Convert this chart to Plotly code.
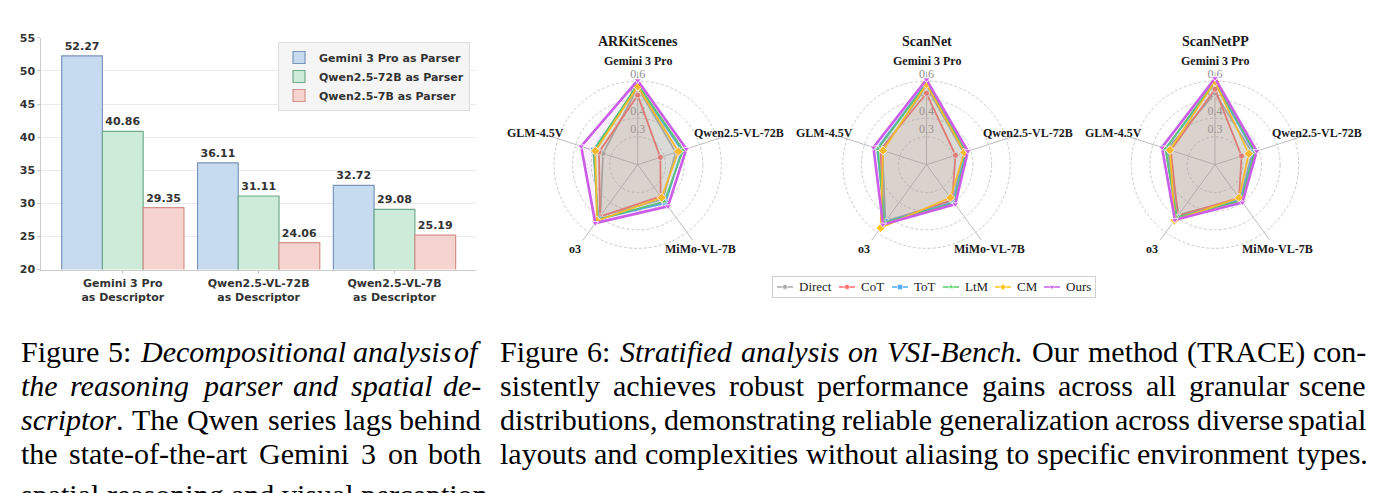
import math
import plotly.graph_objects as go

W, H = 1391, 493

# ---------------- Figure 5 data (grouped bars) ----------------
descriptor_labels = ["Gemini 3 Pro<br>as Descriptor", "Qwen2.5-VL-72B<br>as Descriptor", "Qwen2.5-VL-7B<br>as Descriptor"]
parser_labels = ["Gemini 3 Pro as Parser", "Qwen2.5-72B as Parser", "Qwen2.5-7B as Parser"]
gemini3pro_parser = [52.27, 36.11, 32.72]
qwen72b_parser = [40.86, 31.11, 29.08]
qwen7b_parser = [29.35, 24.06, 25.19]
bar_ytick_vals = [20, 25, 30, 35, 40, 45, 50, 55]

# ---------------- Figure 6 data (radar charts) ----------------
radar_axes = ["Gemini 3 Pro", "Qwen2.5-VL-72B", "MiMo-VL-7B", "o3", "GLM-4.5V"]
method_names = ["Direct", "CoT", "ToT", "LtM", "CM", "Ours"]
scene_names = ["ARKitScenes", "ScanNet", "ScanNetPP"]

arkit_direct = [0.565, 0.365, 0.380, 0.492, 0.346]
arkit_cot    = [0.524, 0.278, 0.360, 0.495, 0.369]
arkit_tot    = [0.575, 0.400, 0.404, 0.511, 0.400]
arkit_ltm    = [0.582, 0.407, 0.395, 0.515, 0.399]
arkit_cm     = [0.571, 0.380, 0.369, 0.523, 0.390]
arkit_ours   = [0.603, 0.425, 0.427, 0.538, 0.470]

scannet_direct = [0.570, 0.360, 0.390, 0.525, 0.400]
scannet_cot    = [0.534, 0.314, 0.385, 0.540, 0.410]
scannet_tot    = [0.590, 0.370, 0.400, 0.528, 0.430]
scannet_ltm    = [0.587, 0.375, 0.405, 0.535, 0.425]
scannet_cm     = [0.583, 0.364, 0.369, 0.570, 0.396]
scannet_ours   = [0.608, 0.384, 0.413, 0.548, 0.450]

scannetpp_direct = [0.535, 0.360, 0.380, 0.482, 0.420]
scannetpp_cot    = [0.556, 0.300, 0.370, 0.490, 0.400]
scannetpp_tot    = [0.590, 0.370, 0.385, 0.500, 0.430]
scannetpp_ltm    = [0.600, 0.375, 0.390, 0.500, 0.430]
scannetpp_cm     = [0.597, 0.341, 0.370, 0.520, 0.405]
scannetpp_ours   = [0.615, 0.386, 0.401, 0.517, 0.450]

radial_tick_vals = [0.3, 0.4, 0.5, 0.6]
radial_tick_text = ["0.3", "0.4", "0.5", "0.6"]

# ---------------- Captions ----------------
left_caption = [
    [("Figure 5: ", 0), ("Decompositional analysis of", 1)],
    [("the reasoning parser and spatial de-", 1)],
    [("scriptor", 1), (". The Qwen series lags behind", 0)],
    [("the state-of-the-art Gemini 3 on both", 0)],
    [("spatial reasoning and visual perception", 0)],
]
right_caption = [
    [("Figure 6: ", 0), ("Stratified analysis on VSI-Bench.", 1), (" Our method (TRACE) con-", 0)],
    [("sistently achieves robust performance gains across all granular scene", 0)],
    [("distributions, demonstrating reliable generalization across diverse spatial", 0)],
    [("layouts and complexities without aliasing to specific environment types.", 0)],
]
left_justify = [1, 1, 1, 1, 0]
right_justify = [1, 1, 1, 0]

# ---------------- styles ----------------
BAR_FONT = "DejaVu Sans"
SERIF = '"Liberation Serif", "Times New Roman", Times, serif'
TXT = "#333333"
bar_fills = ["#c6dbf0", "#cdebd9", "#f6d3cf"]
bar_edges = ["#7b95bb", "#6fab8a", "#d5918b"]
m_colors = ["#aaaaaa", "#ff6b6b", "#4dabf7", "#51cf66", "#fcc419", "#cc5de8"]
m_symbols = ["circle", "circle", "square", "triangle-up", "diamond", "triangle-down"]
m_widths = [1.8, 1.8, 1.8, 1.8, 1.8, 2.6]


def rgba(hexc, a):
    h = hexc.lstrip("#")
    return "rgba(%d,%d,%d,%.3f)" % (int(h[0:2], 16), int(h[2:4], 16), int(h[4:6], 16), a)


def px(x):
    return x / W


def py(y):
    return 1 - y / H


fig = go.Figure()

# ---------- bars ----------
for name, vals, fc, ec in zip(parser_labels, [gemini3pro_parser, qwen72b_parser, qwen7b_parser], bar_fills, bar_edges):
    fig.add_trace(go.Bar(
        x=descriptor_labels, y=vals, name=name,
        marker=dict(color=fc, line=dict(color=ec, width=1.2)),
        texttemplate="%{y:.2f}", textposition="outside", cliponaxis=False,
        constraintext="none",
        textfont=dict(family=BAR_FONT, size=11, color=TXT, weight="bold"),
        xaxis="x", yaxis="y", legend="legend", hoverinfo="skip",
    ))

# ---------- radars ----------
scene_data = [
    [arkit_direct, arkit_cot, arkit_tot, arkit_ltm, arkit_cm, arkit_ours],
    [scannet_direct, scannet_cot, scannet_tot, scannet_ltm, scannet_cm, scannet_ours],
    [scannetpp_direct, scannetpp_cot, scannetpp_tot, scannetpp_ltm, scannetpp_cm, scannetpp_ours],
]
centers_x = [637.7, 926.5, 1215.0]
CY = 163.0
R = 95.5
R_MIN, R_MAX = 0.15, 0.65
LABEL_R = 0.71

annotations = []
polar_layouts = {}
for i, (scene, series) in enumerate(zip(scene_names, scene_data)):
    sp = "polar" if i == 0 else "polar%d" % (i + 1)
    # radial tick labels (drawn first => under data)
    fig.add_trace(go.Scatterpolar(
        r=[v + 0.035 for v in radial_tick_vals], theta=[radar_axes[0]] * len(radial_tick_vals),
        mode="text", text=radial_tick_text,
        textfont=dict(family=SERIF, size=12, color="#8f8f8f"),
        cliponaxis=False, showlegend=False, hoverinfo="skip", subplot=sp))
    for j, vals in enumerate(series):
        fig.add_trace(go.Scatterpolar(
            r=vals + [vals[0]], theta=radar_axes + [radar_axes[0]],
            mode="lines+markers", name=method_names[j],
            line=dict(color=m_colors[j], width=m_widths[j]),
            marker=dict(symbol=m_symbols[j], size=6 if j != 4 else 7, color=m_colors[j],
                        line=dict(color="white", width=0.8)),
            fill="toself", fillcolor=rgba(m_colors[j], 0.09),
            showlegend=False, hoverinfo="skip", subplot=sp))
    cx = centers_x[i]
    polar_layouts[sp] = dict(
        domain=dict(x=[px(cx - R), px(cx + R)], y=[py(CY + R), py(CY - R)]),
        bgcolor="rgba(0,0,0,0)",
        radialaxis=dict(range=[R_MIN, R_MAX], tickvals=radial_tick_vals, showticklabels=False,
                        ticks="", showline=False, gridcolor="#cccccc", griddash="3px,2px",
                        gridwidth=0.8, layer="below traces", angle=90),
        angularaxis=dict(direction="clockwise", rotation=90, categoryorder="array",
                         categoryarray=radar_axes, showticklabels=False, ticks="",
                         showline=False, gridcolor="#bdbdbd", gridwidth=1, layer="below traces"),
    )
    # category labels centred on the label radius along each spoke
    rl = (LABEL_R - R_MIN) / (R_MAX - R_MIN) * R
    for k, cat in enumerate(radar_axes):
        ang = math.radians(90 - 360.0 * k / len(radar_axes))
        annotations.append(dict(
            x=px(cx + rl * math.cos(ang)), y=py(CY - rl * math.sin(ang)), xref="paper", yref="paper",
            text="<b>%s</b>" % cat, showarrow=False, xanchor="center", yanchor="middle", borderpad=0,
            font=dict(family=SERIF, size=12, color="#1a1a1a")))
    annotations.append(dict(x=px(cx), y=py(36.7), xref="paper", yref="paper", text="<b>%s</b>" % scene,
                            showarrow=False, xanchor="center", yanchor="middle", borderpad=0,
                            font=dict(family=SERIF, size=14, color="#1a1a1a")))

# ---------- radar legend (small axes) ----------
LEG_L, LEG_R, LEG_T, LEG_B = 773, 1095, 278, 299
leg_starts = [777, 839, 892, 943, 995, 1044]
for j, nm in enumerate(method_names):
    x0 = leg_starts[j]
    fig.add_trace(go.Scatter(
        x=[x0, x0 + 16], y=[0.5, 0.5], mode="lines", line=dict(color=m_colors[j], width=1.5),
        xaxis="x2", yaxis="y2", showlegend=False, hoverinfo="skip"))
    fig.add_trace(go.Scatter(
        x=[x0 + 8], y=[0.5], mode="markers",
        marker=dict(symbol=m_symbols[j], size=5, color=m_colors[j], line=dict(color="white", width=0.6)),
        xaxis="x2", yaxis="y2", showlegend=False, hoverinfo="skip"))
    annotations.append(dict(x=x0 + 21, y=0.5, xref="x2", yref="y2", text=nm,
                            showarrow=False, xanchor="left", yanchor="middle", borderpad=0,
                            font=dict(family=SERIF, size=13, color="#222222")))

# ---------- captions (justified word placement) ----------
FS = 30
ROMAN = {" ": 250, ".": 250, ",": 250, ":": 278, "-": 333, "(": 333, ")": 333,
         "0": 500, "1": 500, "2": 500, "3": 500, "4": 500, "5": 500, "6": 500, "7": 500, "8": 500, "9": 500,
         "A": 722, "B": 667, "C": 667, "D": 722, "E": 611, "F": 556, "G": 722, "H": 722, "I": 333, "J": 389,
         "K": 722, "L": 611, "M": 889, "N": 722, "O": 722, "P": 556, "Q": 722, "R": 667, "S": 556, "T": 611,
         "U": 722, "V": 722, "W": 944, "X": 722, "Y": 722, "Z": 611,
         "a": 444, "b": 500, "c": 444, "d": 500, "e": 444, "f": 333, "g": 500, "h": 500, "i": 278, "j": 278,
         "k": 500, "l": 278, "m": 778, "n": 500, "o": 500, "p": 500, "q": 500, "r": 333, "s": 389, "t": 278,
         "u": 500, "v": 500, "w": 722, "x": 500, "y": 500, "z": 444}
ITALIC = {" ": 250, ".": 250, ",": 250, ":": 333, "-": 333,
          "A": 611, "B": 611, "C": 667, "D": 722, "E": 611, "F": 611, "G": 722, "H": 722, "I": 333, "J": 444,
          "K": 667, "L": 556, "M": 833, "N": 667, "O": 722, "P": 611, "Q": 722, "R": 611, "S": 500, "T": 556,
          "U": 722, "V": 611, "W": 833, "X": 611, "Y": 556, "Z": 556,
          "a": 500, "b": 500, "c": 444, "d": 500, "e": 444, "f": 278, "g": 500, "h": 500, "i": 278, "j": 278,
          "k": 444, "l": 278, "m": 722, "n": 500, "o": 500, "p": 500, "q": 500, "r": 389, "s": 389, "t": 278,
          "u": 500, "v": 444, "w": 667, "x": 444, "y": 444, "z": 389}


def words_of(line):
    chars = []
    for seg, it in line:
        for c in seg:
            chars.append((c, it))
    words, cur = [], []
    for c, it in chars:
        if c == " ":
            if cur:
                words.append(cur)
                cur = []
        else:
            cur.append((c, it))
    if cur:
        words.append(cur)
    return words


def wwidth(word):
    return sum((ITALIC if it else ROMAN).get(c, 500) for c, it in word) / 1000.0 * FS


def whtml(word):
    out, run, run_it = "", "", None
    for c, it in word:
        if run_it is None or it == run_it:
            run += c
            run_it = it
        else:
            out += ("<i>%s</i>" % run) if run_it else run
            run, run_it = c, it
    out += ("<i>%s</i>" % run) if run_it else run
    return out


line_centers = [355, 390, 425, 460, 502]


def place_caption(lines, justify, x0, x1):
    for li, line in enumerate(lines):
        ws = words_of(line)
        widths = [wwidth(w) for w in ws]
        nat_gap = 0.25 * FS
        if justify[li] and len(ws) > 1:
            gap = (x1 - x0 - sum(widths)) / (len(ws) - 1)
        else:
            gap = nat_gap
        x = x0
        for k, w in enumerate(ws):
            last = justify[li] and k == len(ws) - 1 and len(ws) > 1
            annotations.append(dict(
                x=px(x1) if last else px(x), y=py(line_centers[li]), xref="paper", yref="paper",
                text=whtml(w), showarrow=False, xanchor="right" if last else "left", yanchor="middle",
                borderpad=0, font=dict(family=SERIF, size=FS, color="#000000")))
            x += widths[k] + gap


place_caption(left_caption, left_justify, 20, 482)
place_caption(right_caption, right_justify, 499, 1367)

# ---------- layout ----------
layout = dict(
    width=W, height=H, margin=dict(l=0, r=0, t=0, b=0),
    paper_bgcolor="white", plot_bgcolor="white",
    barmode="group", bargap=0.1, bargroupgap=0.0,
    xaxis=dict(domain=[px(41.3), px(476)], range=[-0.6, 2.6], type="category",
               showline=True, linecolor="#cccccc", linewidth=1, ticks="outside", ticklen=3,
               tickcolor="#cccccc", showgrid=False, anchor="y",
               tickfont=dict(family=BAR_FONT, size=11, color=TXT, weight="bold")),
    yaxis=dict(domain=[py(270.7), py(32.7)], range=[20, 55], tickvals=bar_ytick_vals,
               showline=True, linecolor="#cccccc", linewidth=1, ticks="outside", ticklen=3,
               tickcolor="#cccccc", gridcolor="#ebebeb", gridwidth=1, zeroline=False, anchor="x",
               tickfont=dict(family=BAR_FONT, size=11, color=TXT, weight="bold")),
    xaxis2=dict(domain=[px(LEG_L), px(LEG_R)], range=[LEG_L, LEG_R], visible=True, showgrid=False,
                zeroline=False, showticklabels=False, ticks="", showline=True, mirror=True,
                linecolor="#cfcfcf", linewidth=1, anchor="y2", fixedrange=True),
    yaxis2=dict(domain=[py(LEG_B), py(LEG_T)], range=[0, 1], showgrid=False, zeroline=False,
                showticklabels=False, ticks="", showline=True, mirror=True, linecolor="#cfcfcf",
                linewidth=1, anchor="x2", fixedrange=True),
    legend=dict(x=px(470), xanchor="right", y=py(37), yanchor="top", bgcolor="#f5f5f5",
                bordercolor="#dedede", borderwidth=1, itemwidth=30,
                font=dict(family=BAR_FONT, size=11, color=TXT, weight="bold")),
    annotations=annotations,
    showlegend=True,
)
layout.update(polar_layouts)
fig.update_layout(**layout)

fig.write_html("out.html")
